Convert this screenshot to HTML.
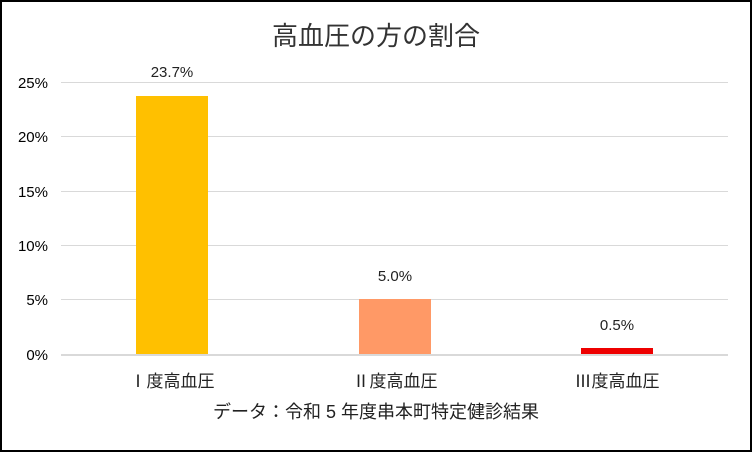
<!DOCTYPE html>
<html><head><meta charset="utf-8"><style>
body{margin:0;background:#fff}
.wrap{position:relative;width:748px;height:448px;border:2px solid #000;overflow:hidden;font-family:"Liberation Sans","Noto Sans CJK JP",sans-serif;color:#404040}
.t{position:absolute;white-space:nowrap}
.g{position:absolute;left:59px;width:667px;height:1px;background:#d9d9d9}
.y{position:absolute;left:0;width:46px;text-align:right;font-size:15px;color:#000}
.b{position:absolute;width:72px}
.l{position:absolute;font-size:15px;color:#222;text-align:center;width:120px}
.c{position:absolute;font-size:17px;color:#222;text-align:center;width:200px}
</style></head><body><div class="wrap">
<div class="t" style="left:0;width:748px;text-align:center;top:14px;font-size:26px;color:#333">高血圧の方の割合</div>
<div class="g" style="top:80px"></div><div class="y" style="top:73px">25%</div>
<div class="g" style="top:134px"></div><div class="y" style="top:127px">20%</div>
<div class="g" style="top:189px"></div><div class="y" style="top:182px">15%</div>
<div class="g" style="top:243px"></div><div class="y" style="top:236px">10%</div>
<div class="g" style="top:297px"></div><div class="y" style="top:290px">5%</div>
<div class="g" style="top:352px;height:2px"></div><div class="y" style="top:345px">0%</div>
<div class="b" style="left:134px;top:94px;height:258px;background:#ffc000"></div>
<div class="b" style="left:357px;top:297px;height:55px;background:#ff9966"></div>
<div class="b" style="left:579px;top:346px;height:6px;background:#ee0000"></div>
<div class="l" style="left:110px;top:62px">23.7%</div>
<div class="l" style="left:333px;top:266px">5.0%</div>
<div class="l" style="left:555px;top:315px">0.5%</div>
<div class="c" style="left:70px;top:365px">Ⅰ度高血圧</div>
<div class="c" style="left:293px;top:365px">Ⅱ度高血圧</div>
<div class="c" style="left:515px;top:365px">Ⅲ度高血圧</div>
<div class="t" style="left:0;width:748px;text-align:center;top:396px;font-size:18px;color:#222">データ：令和 5 年度串本町特定健診結果</div>
</div></body></html>
